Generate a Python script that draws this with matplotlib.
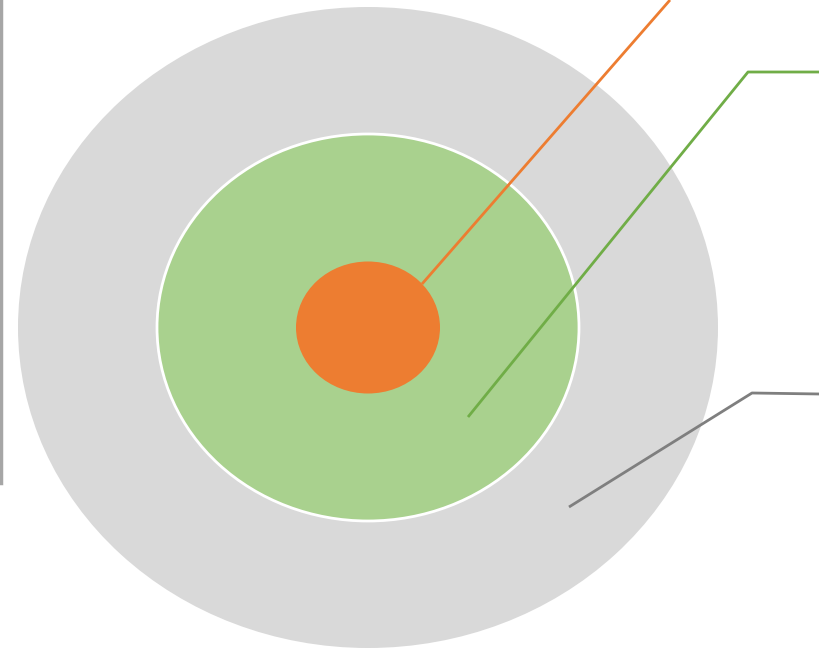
import matplotlib.pyplot as plt
from matplotlib.patches import Ellipse

# nested ellipses: outer -> inner (pixel units)
names = ["outer", "middle", "inner"]
widths = [700, 422, 144]
heights = [641, 387, 132]
fills = ["#D9D9D9", "#A9D18E", "#ED7D31"]
edges = ["none", "white", "none"]

cx, cy = 368, 327.5

# leader lines for each ring
leader_x = [[422, 670], [468, 748, 820], [569, 752, 820]]
leader_y = [[284, 0], [417, 72, 72], [507, 393, 394]]
leader_colors = ["#ED7D31", "#70AD47", "#7F7F7F"]

fig = plt.figure(figsize=(8.2, 6.5), dpi=100)
ax = fig.add_axes([0, 0, 1, 1])
ax.set_xlim(0, 820)
ax.set_ylim(650, 0)
ax.axis('off')

for w, h, fc, ec in zip(widths, heights, fills, edges):
    ax.add_patch(Ellipse((cx, cy), w, h, facecolor=fc, edgecolor=ec, linewidth=2))

for xs, ys, c in zip(leader_x, leader_y, leader_colors):
    ax.plot(xs, ys, color=c, linewidth=2, solid_capstyle='butt')

# left border line
ax.plot([1, 1], [0, 483], color="#A6A6A6", linewidth=2.5)

fig.savefig("out.png", dpi=100)
